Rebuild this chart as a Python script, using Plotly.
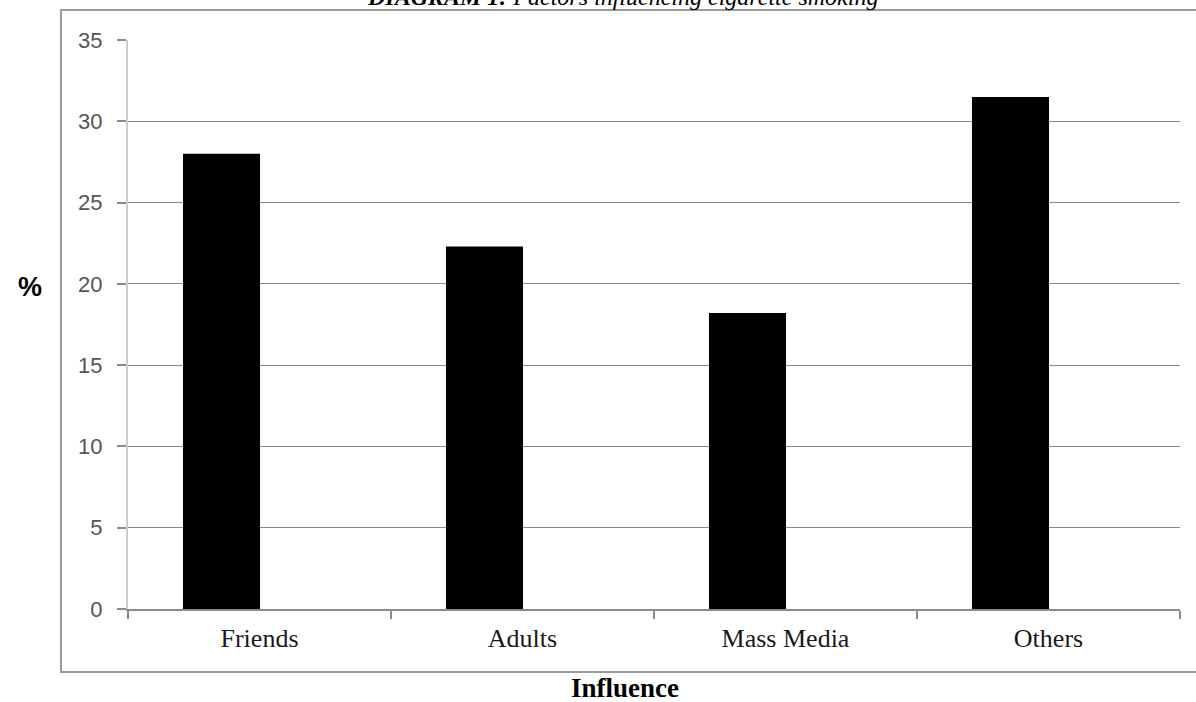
import plotly.graph_objects as go

# Share of respondents by main influence on cigarette smoking
categories = ["Friends", "Adults", "Mass Media", "Others"]
percent = [28.0, 22.3, 18.2, 31.5]
y_ticks = [0, 5, 10, 15, 20, 25, 30, 35]

W, H = 1196, 702
ML, MR, MT, MB = 128, 16, 40, 93
PW, PH = W - ML - MR, H - MT - MB


def px_x(px):
    return (px - ML) / PW


def px_y(py):
    return (H - MB - py) / PH


# Bars sit slightly left of each category centre, as in the original layout
fig = go.Figure(
    go.Bar(
        x=categories,
        y=percent,
        width=0.293,
        offset=-0.291,
        marker=dict(color="black", line=dict(width=0)),
        hoverinfo="x+y",
    )
)

fig.update_layout(
    width=W,
    height=H,
    margin=dict(l=ML, r=MR, t=MT, b=MB),
    paper_bgcolor="white",
    plot_bgcolor="white",
    showlegend=False,
)

fig.update_xaxes(
    type="category",
    range=[-0.5, 3.5],
    showline=True,
    linecolor="#8a8a8a",
    linewidth=1.5,
    ticks="outside",
    tickson="boundaries",
    ticklen=8,
    tickcolor="#8a8a8a",
    tickwidth=1.5,
    showgrid=False,
    tickfont=dict(family="Liberation Serif", size=26, color="#1a1a1a"),
    ticklabelstandoff=5,
)

fig.update_yaxes(
    range=[0, 35],
    tickvals=y_ticks,
    showline=True,
    linecolor="#cccccc",
    linewidth=2,
    ticks="outside",
    ticklen=9,
    tickcolor="#8a8a8a",
    tickwidth=1.5,
    showgrid=True,
    gridcolor="#8a8a8a",
    gridwidth=1.2,
    zeroline=False,
    tickfont=dict(family="Liberation Sans", size=22, color="#555555"),
    ticklabelstandoff=10,
)

# Outer frame around the chart
fig.add_shape(
    type="rect",
    xref="paper",
    yref="paper",
    x0=px_x(61),
    x1=px_x(1197),
    y0=px_y(672),
    y1=px_y(10),
    line=dict(color="#9a9a9a", width=2),
    fillcolor="rgba(0,0,0,0)",
    layer="below",
)

fig.add_annotation(
    text="<b><i>DIAGRAM 1:</i></b><i> Factors influencing cigarette smoking</i>",
    xref="paper",
    yref="paper",
    x=px_x(622),
    y=px_y(-3),
    xanchor="center",
    yanchor="middle",
    showarrow=False,
    font=dict(family="Liberation Serif", size=24, color="black"),
)

fig.add_annotation(
    text="<b>%</b>",
    xref="paper",
    yref="paper",
    x=px_x(30),
    y=px_y(287),
    xanchor="center",
    yanchor="middle",
    showarrow=False,
    font=dict(family="Liberation Sans", size=27, color="black"),
)

fig.add_annotation(
    text="<b>Influence</b>",
    xref="paper",
    yref="paper",
    x=px_x(625),
    y=px_y(688),
    xanchor="center",
    yanchor="middle",
    showarrow=False,
    font=dict(family="Liberation Serif", size=27, color="black"),
)

fig.write_html("out.html")
